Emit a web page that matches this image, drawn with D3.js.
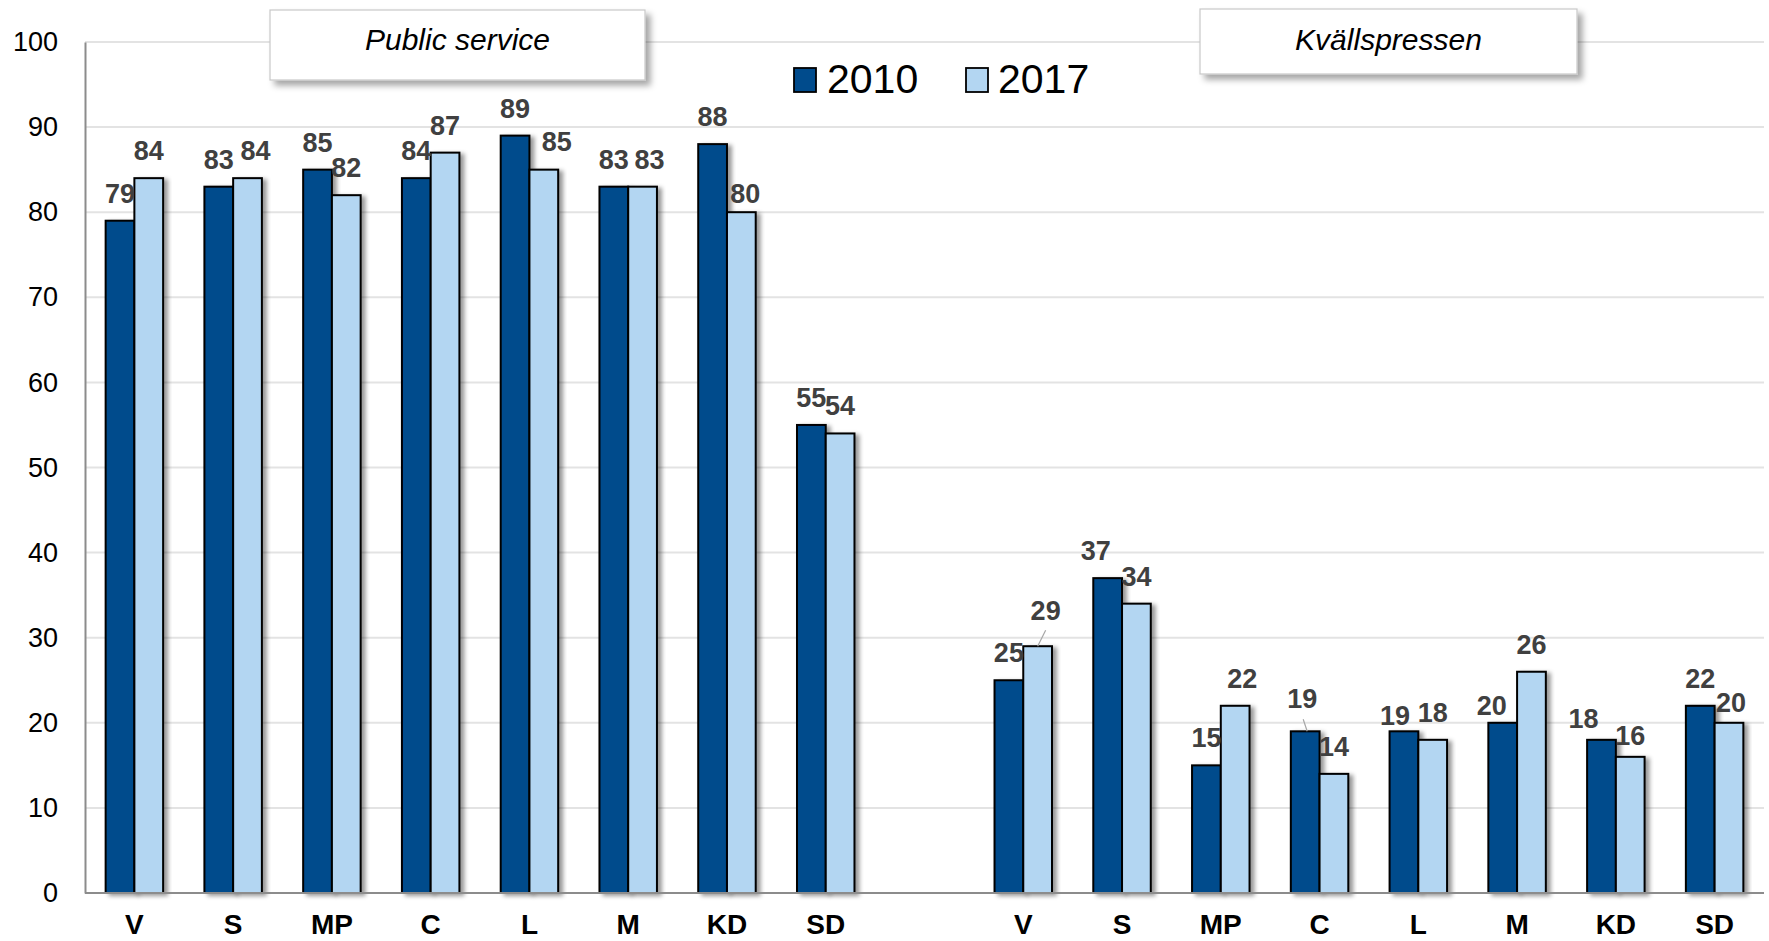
<!DOCTYPE html>
<html>
<head>
<meta charset="utf-8">
<script src="https://cdn.jsdelivr.net/npm/d3@7"></script>
<style>
  html, body { margin: 0; padding: 0; background: #fff; }
  svg { display: block; font-family: "Liberation Sans", Arial, sans-serif; }
</style>
</head>
<body>
<svg id="chart" width="1769" height="941"></svg>
<script>
// ---------- data ----------
const parties = ["V", "S", "MP", "C", "L", "M", "KD", "SD"];
const groups = ["Public service", "Kvällspressen"];
const years = ["2010", "2017"];
const publicService2010 = [79, 83, 85, 84, 89, 83, 88, 55];
const publicService2017 = [84, 84, 82, 87, 85, 83, 80, 54];
const kvallspressen2010 = [25, 37, 15, 19, 19, 20, 18, 22];
const kvallspressen2017 = [29, 34, 22, 14, 18, 26, 16, 20];
const yTicks = [0, 10, 20, 30, 40, 50, 60, 70, 80, 90, 100];

// label nudges (layout only): offsets from default position above bar
const labelNudges = [
  { group: 0, party: "S", year: "2017", dx: 8, dy: 0 },
  { group: 0, party: "L", year: "2017", dx: 13, dy: -1 },
  { group: 0, party: "M", year: "2017", dx: 7, dy: 0 },
  { group: 0, party: "KD", year: "2017", dx: 4, dy: 9 },
  { group: 1, party: "V", year: "2017", dx: 8, dy: -8, leader: [0, 0, 8, -16] },
  { group: 1, party: "S", year: "2010", dx: -12, dy: 0 },
  { group: 1, party: "MP", year: "2017", dx: 7, dy: 0 },
  { group: 1, party: "C", year: "2010", dx: -3, dy: -5, leader: [2, 0, -2, -12] },
  { group: 1, party: "L", year: "2010", dx: -9, dy: 12 },
  { group: 1, party: "M", year: "2010", dx: -11, dy: 10 },
  { group: 1, party: "KD", year: "2010", dx: -18, dy: 6 },
  { group: 1, party: "KD", year: "2017", dx: 0, dy: 6 },
  { group: 1, party: "SD", year: "2017", dx: 2, dy: 7 }
];

// ---------- layout ----------
const plotLeft = 85, plotRight = 1764, plotTop = 42, plotBottom = 893;
const colors = { "2010": "#004B8C", "2017": "#B3D6F2" };

const svg = d3.select("#chart");

const defs = svg.append("defs");
const f = defs.append("filter").attr("id", "shadow").attr("x", "-30%").attr("y", "-10%").attr("width", "160%").attr("height", "130%");
f.append("feDropShadow").attr("dx", 4).attr("dy", 2).attr("stdDeviation", 2.2).attr("flood-color", "#000").attr("flood-opacity", 0.4);
const f2 = defs.append("filter").attr("id", "boxshadow").attr("x", "-10%").attr("y", "-20%").attr("width", "125%").attr("height", "160%");
f2.append("feDropShadow").attr("dx", 5).attr("dy", 5).attr("stdDeviation", 3).attr("flood-color", "#000").attr("flood-opacity", 0.35);

// categories: 8 + gap + 8
const cats = [];
parties.forEach(p => cats.push("0|" + p));
cats.push("gap");
parties.forEach(p => cats.push("1|" + p));

const x0 = d3.scaleBand().domain(cats).range([plotLeft, plotRight]).paddingInner(0.418).paddingOuter(0.209);
const x1 = d3.scaleBand().domain(years).range([0, x0.bandwidth()]);
const y = d3.scaleLinear().domain([0, 100]).range([plotBottom, plotTop]);

// gridlines
svg.append("g").selectAll("line").data(yTicks.filter(t => t > 0)).join("line")
  .attr("x1", plotLeft).attr("x2", plotRight)
  .attr("y1", d => y(d)).attr("y2", d => y(d))
  .attr("stroke", "#E3E3E3").attr("stroke-width", 2);

// y axis
const yAxis = svg.append("g").attr("transform", `translate(${plotLeft},0)`)
  .call(d3.axisLeft(y).tickValues(yTicks).tickSize(0).tickPadding(27));
yAxis.select(".domain").attr("stroke", "#8C8C8C").attr("stroke-width", 2);
yAxis.selectAll("text").attr("font-size", 27).attr("fill", "#000").attr("font-family", "Liberation Sans, Arial, sans-serif");

// data rows
const rows = [];
const seriesByGroup = [
  { "2010": publicService2010, "2017": publicService2017 },
  { "2010": kvallspressen2010, "2017": kvallspressen2017 }
];
seriesByGroup.forEach((s, gi) => {
  parties.forEach((p, pi) => {
    years.forEach(yr => {
      rows.push({ group: gi, party: p, year: yr, value: s[yr][pi], cat: gi + "|" + p });
    });
  });
});

// bars
svg.append("g").selectAll("rect").data(rows).join("rect")
  .attr("x", d => x0(d.cat) + x1(d.year))
  .attr("y", d => y(d.value))
  .attr("width", x1.bandwidth())
  .attr("height", d => y(0) - y(d.value))
  .attr("fill", d => colors[d.year])
  .attr("stroke", "#000").attr("stroke-width", 2)
  .attr("filter", "url(#shadow)");

// baseline
svg.append("line").attr("x1", plotLeft).attr("x2", plotRight).attr("y1", y(0)).attr("y2", y(0))
  .attr("stroke", "#8C8C8C").attr("stroke-width", 2);

// value labels
const lbl = svg.append("g");
rows.forEach(d => {
  const n = labelNudges.find(k => k.group === d.group && k.party === d.party && k.year === d.year);
  const cx = x0(d.cat) + x1(d.year) + x1.bandwidth() / 2;
  const topY = y(d.value);
  const dx = n ? n.dx : 0, dy = n ? n.dy : 0;
  if (n && n.leader) {
    const L = n.leader;
    lbl.append("line")
      .attr("x1", cx + L[0]).attr("y1", topY + L[1])
      .attr("x2", cx + L[2]).attr("y2", topY + L[3])
      .attr("stroke", "#A6A6A6").attr("stroke-width", 1.2);
  }
  lbl.append("text")
    .attr("x", cx + dx).attr("y", topY - 18 + dy)
    .attr("text-anchor", "middle")
    .attr("font-size", 27).attr("font-weight", "bold").attr("fill", "#404040")
    .text(d.value);
});

// category labels
svg.append("g").selectAll("text").data(cats.filter(c => c !== "gap")).join("text")
  .attr("x", c => x0(c) + x0.bandwidth() / 2)
  .attr("y", 934)
  .attr("text-anchor", "middle")
  .attr("font-size", 28).attr("font-weight", "bold").attr("fill", "#000")
  .text(c => c.split("|")[1]);

// group title boxes
const boxes = [
  { x: 270, y: 10, w: 375, h: 70 },
  { x: 1200, y: 9, w: 377, h: 65 }
];
groups.forEach((g, i) => {
  const b = boxes[i];
  svg.append("rect").attr("x", b.x).attr("y", b.y).attr("width", b.w).attr("height", b.h)
    .attr("fill", "#fff").attr("stroke", "#C8C8C8").attr("stroke-width", 1.2)
    .attr("filter", "url(#boxshadow)");
  svg.append("text").attr("x", b.x + b.w / 2).attr("y", 50)
    .attr("text-anchor", "middle").attr("font-size", 30).attr("font-style", "italic").attr("fill", "#000")
    .text(g);
});

// legend
const legendItems = [
  { year: "2010", sx: 794, tx: 827 },
  { year: "2017", sx: 966, tx: 998 }
];
const leg = svg.append("g");
legendItems.forEach(it => {
  leg.append("rect").attr("x", it.sx).attr("y", 68).attr("width", 22).attr("height", 24)
    .attr("fill", colors[it.year]).attr("stroke", "#000").attr("stroke-width", 1.8);
  leg.append("text").attr("x", it.tx).attr("y", 93)
    .attr("font-size", 41).attr("fill", "#000").text(it.year);
});
</script>
</body>
</html>
